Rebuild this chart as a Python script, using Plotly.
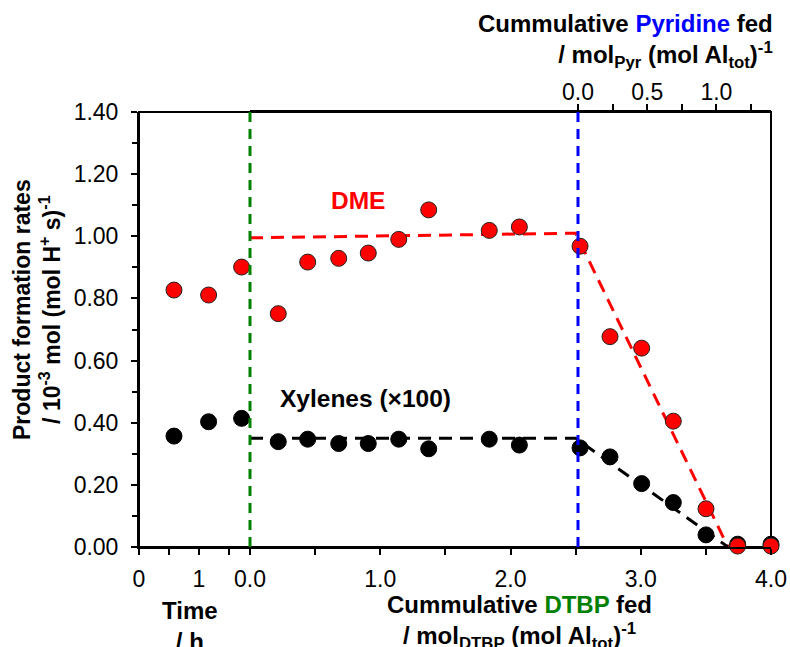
import plotly.graph_objects as go

# ---- data -------------------------------------------------------------
# time-on-stream section (h)
time_h = [0.583, 1.16, 1.71]
dme_time = [0.827, 0.811, 0.901]
xyl_time = [0.357, 0.403, 0.414]

# cumulative titrant fed section (mol DTBP (mol Al_tot)^-1)
fed = [0.217, 0.443, 0.681, 0.908, 1.142, 1.372, 1.837, 2.068, 2.534,
       2.764, 3.007, 3.250, 3.501, 3.744, 4.0]
dme_fed = [0.751, 0.917, 0.929, 0.946, 0.990, 1.085, 1.019, 1.030, 0.968,
           0.677, 0.640, 0.405, 0.123, 0.003, 0.003]
xyl_fed = [0.339, 0.347, 0.333, 0.333, 0.347, 0.316, 0.347, 0.328, 0.319,
           0.290, 0.204, 0.143, 0.039, 0.009, 0.009]

# guide lines (plateau then linear decline)
dme_fit_x = [0.0, 2.50, 3.67]
dme_fit_y = [0.995, 1.01, 0.0]
xyl_fit_x = [0.0, 2.50, 3.67]
xyl_fit_y = [0.35, 0.35, 0.0]

pyr_start = 0.0  # pyridine feed starts here (top axis units)

time_ticks = [0, 0.5, 1, 1.5]
time_ticktext = ["0", "", "1", ""]
fed_ticks = [0, 0.5, 1, 1.5, 2, 2.5, 3, 3.5, 4]
fed_ticktext = ["0.0", "", "1.0", "", "2.0", "", "3.0", "", "4.0"]
pyr_ticks = [0, 0.25, 0.5, 0.75, 1.0, 1.25]
pyr_ticktext = ["0.0", "", "0.5", "", "1.0", ""]

RED = "#FF0000"
GREEN = "#008000"
BLUE = "#0000FF"
FONT = "Liberation Sans, Arial, sans-serif"

red_marker = dict(size=16, color=RED, line=dict(color="#222222", width=1))
blk_marker = dict(size=16, color="black", line=dict(color="black", width=1))

fig = go.Figure()

# dashed guide lines
fig.add_trace(go.Scatter(x=dme_fit_x, y=dme_fit_y, xaxis="x2", yaxis="y",
                         mode="lines", line=dict(color=RED, width=3, dash="13px,8px"),
                         hoverinfo="skip"))
fig.add_trace(go.Scatter(x=xyl_fit_x, y=xyl_fit_y, xaxis="x2", yaxis="y",
                         mode="lines", line=dict(color="black", width=3, dash="13px,8px"),
                         hoverinfo="skip"))

# markers, time section
fig.add_trace(go.Scatter(x=time_h, y=dme_time, xaxis="x", yaxis="y", mode="markers",
                         marker=red_marker, cliponaxis=False))
fig.add_trace(go.Scatter(x=time_h, y=xyl_time, xaxis="x", yaxis="y", mode="markers",
                         marker=blk_marker, cliponaxis=False))
# markers, titration section
fig.add_trace(go.Scatter(x=fed, y=xyl_fed, xaxis="x2", yaxis="y", mode="markers",
                         marker=blk_marker, cliponaxis=False))
fig.add_trace(go.Scatter(x=fed, y=dme_fed, xaxis="x2", yaxis="y", mode="markers",
                         marker=red_marker, cliponaxis=False))

L, R, T, B = 139, 19, 112, 100
plot_w = 790 - L - R
split = (250 - L) / plot_w

axis_common = dict(showline=True, linecolor="black", linewidth=2, ticks="outside",
                   ticklen=6, tickwidth=2, tickcolor="black", showgrid=False,
                   zeroline=False, automargin=False,
                   tickfont=dict(family=FONT, size=23, color="black"))

fig.update_layout(
    width=790, height=647,
    margin=dict(l=L, r=R, t=T, b=B, autoexpand=False),
    paper_bgcolor="white", plot_bgcolor="white",
    showlegend=False,
    font=dict(family=FONT, color="black"),
    xaxis=dict(domain=[0, split], range=[0, 1.85], tickmode="array",
               tickvals=time_ticks, ticktext=time_ticktext, anchor="y",
               ticklabelstandoff=4, **axis_common),
    xaxis2=dict(domain=[split, 1], range=[0, 4.0], tickmode="array",
                tickvals=fed_ticks, ticktext=fed_ticktext, anchor="y",
                ticklabelstandoff=4, **axis_common),
    xaxis3=dict(overlaying="x2", side="top", range=[-2.370, 1.3945], tickmode="array",
                tickvals=pyr_ticks, ticktext=pyr_ticktext, anchor="y",
                ticklabelstandoff=-5, **axis_common),
    yaxis=dict(range=[0, 1.4], tick0=0, dtick=0.2, tickformat=".2f", anchor="x",
               ticklabelstandoff=8,
               minor=dict(dtick=0.1, ticks="outside", ticklen=5, tickwidth=2,
                          tickcolor="black"),
               **axis_common),
)

# plot frame
fig.add_shape(type="rect", xref="paper", yref="paper", x0=0, x1=1, y0=0, y1=1,
              line=dict(color="black", width=2), layer="below")

# start of DTBP feed (boundary between the two bottom axes)
fig.add_shape(type="line", xref="paper", yref="paper", x0=split, x1=split, y0=0, y1=1,
              line=dict(color=GREEN, width=3, dash="10px,7px"))
# start of pyridine feed
fig.add_shape(type="line", xref="x3", yref="paper", x0=pyr_start, x1=pyr_start, y0=0, y1=1,
              line=dict(color=BLUE, width=3, dash="10px,7px"))

title_font = dict(family=FONT, size=24, color="black")
ph = 647 - T - B


def py(pix):
    """paper y for a pixel row"""
    return (647 - B - pix) / ph


def px(pix):
    """paper x for a pixel column"""
    return (pix - L) / plot_w


fig.add_annotation(text="<b>Product formation rates<br>/ 10<sup>-3</sup> mol (mol H<sup>+</sup> s)<sup>-1</sup></b>",
                   xref="paper", yref="paper", x=px(37), y=py(310), textangle=-90,
                   showarrow=False, font=dict(family=FONT, size=23, color="black"),
                   xanchor="center", yanchor="middle")

fig.add_annotation(text="<b>Time<br>/ h</b>", xref="paper", yref="paper",
                   x=px(190), y=py(595), xanchor="center", yanchor="top",
                   showarrow=False, font=title_font)

fig.add_annotation(text="<b>Cummulative <span style='color:#008000'>DTBP</span> fed<br>"
                        "/ mol<sub>DTBP</sub> (mol Al<sub>tot</sub>)<sup>-1</sup></b>",
                   xref="paper", yref="paper", x=px(519), y=py(589),
                   xanchor="center", yanchor="top", showarrow=False, font=title_font)

fig.add_annotation(text="<b>Cummulative <span style='color:#0000FF'>Pyridine</span> fed<br>"
                        "/ mol<sub>Pyr</sub> (mol Al<sub>tot</sub>)<sup>-1</sup></b>",
                   xref="paper", yref="paper", x=px(775), y=py(8), align="right",
                   xanchor="right", yanchor="top", showarrow=False, font=title_font)

fig.add_annotation(text="<b>DME</b>", xref="x2", yref="y", x=0.83, y=1.115,
                   showarrow=False, font=dict(family=FONT, size=24.5, color=RED))
fig.add_annotation(text="<b>Xylenes (×100)</b>", xref="x2", yref="y", x=0.89, y=0.478,
                   showarrow=False, font=dict(family=FONT, size=24.5, color="black"))

fig.write_html("out.html")
